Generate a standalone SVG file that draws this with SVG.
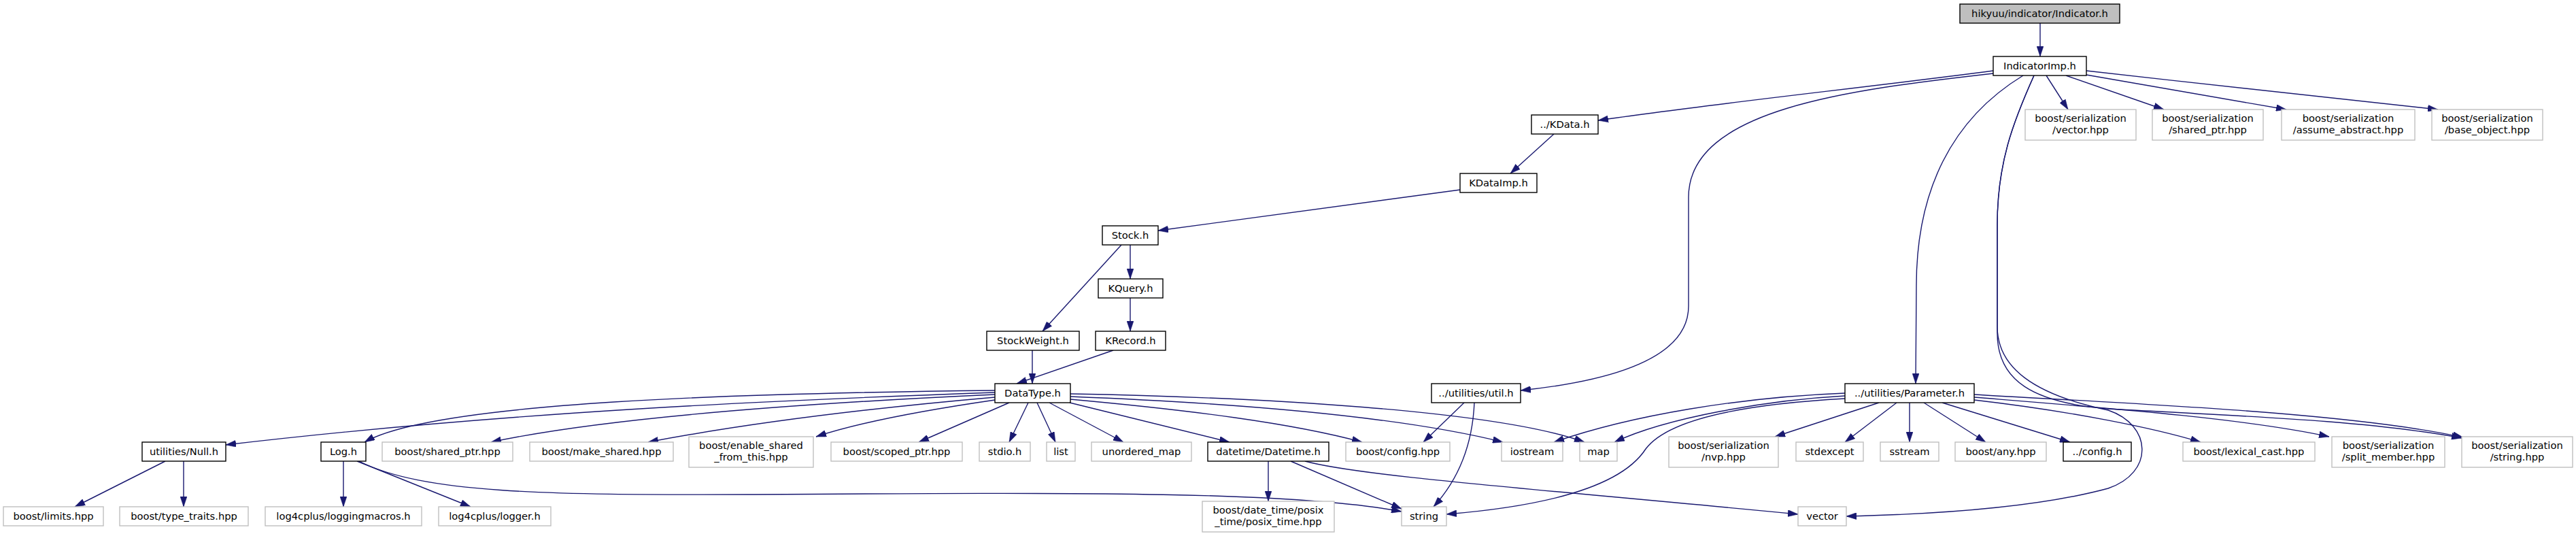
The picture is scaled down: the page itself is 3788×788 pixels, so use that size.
<svg xmlns="http://www.w3.org/2000/svg" width="3788" height="788" viewBox="0 0 3788 788">
<style>
.b rect{fill:#ffffff;stroke:#000000;stroke-width:1.4}
.g rect{fill:#ffffff;stroke:#bfbfbf;stroke-width:1.4}
.r rect{fill:#bfbfbf;stroke:#000000;stroke-width:1.4}
text{font-family:"DejaVu Sans","Liberation Sans",sans-serif;font-size:14.7px;fill:#000000;text-anchor:middle}
#edges path{fill:none;stroke:#191970;stroke-width:1.4;marker-end:url(#ah)}
</style>
<defs>
<marker id="ah" viewBox="0 0 15 10" markerWidth="15" markerHeight="10" markerUnits="userSpaceOnUse" refX="15" refY="5" orient="auto"><path d="M0,0 L15,5 L0,10 z" fill="#191970" stroke="#191970" stroke-width="0.5"/></marker>
</defs>
<rect x="0" y="0" width="3788" height="788" fill="#ffffff"/>
<g id="edges">
<path d="M3000,34 L3000,83"/>
<path d="M2931,104 C2750,128 2520,152 2350,177"/>
<path d="M2931,108 C2720,132 2483,160 2483,290 L2483,450 C2483,520 2390,558 2236,574"/>
<path d="M2975,111 C2870,175 2818,280 2818,420 L2817,564"/>
<path d="M2991,111 C2960,180 2937,240 2937,330 L2937,480 C2937,540 2990,580 3100,603 C3165,625 3168,695 3100,718 C3000,745 2850,756 2715,759"/>
<path d="M2991,111 C2960,180 2937,240 2937,330 L2937,490 C2937,560 2990,592 3100,601 C3300,612 3480,618 3620,644"/>
<path d="M3009,111 L3041,161"/>
<path d="M3038,111 L3182,161"/>
<path d="M3068,110 L3362,161"/>
<path d="M3068,104 C3250,125 3450,145 3585,161"/>
<path d="M2285,197 L2221,255"/>
<path d="M2147,279 L1703,339"/>
<path d="M1649,360 L1533,487"/>
<path d="M1662,360 L1662,410"/>
<path d="M1662,438 L1662,487"/>
<path d="M1518,515 L1518,564"/>
<path d="M1637,515 L1495,564"/>
<path d="M1463,577 C1150,588 750,605 332,654"/>
<path d="M1463,574 C1100,578 640,590 536,650"/>
<path d="M1463,580 C1200,592 900,612 722,650"/>
<path d="M1463,584 C1280,600 1100,622 953,650"/>
<path d="M1463,588 C1360,603 1260,622 1200,642"/>
<path d="M1484,592 L1351,650"/>
<path d="M1512,592 L1484,650"/>
<path d="M1525,592 L1552,650"/>
<path d="M1543,592 L1652,650"/>
<path d="M1573,592 L1808,650"/>
<path d="M1574,587 C1750,603 1900,622 2003,650"/>
<path d="M1574,583 C1800,592 2050,610 2210,650"/>
<path d="M1574,579 C1850,584 2200,603 2330,650"/>
<path d="M2153,592 L2093,650"/>
<path d="M2168,592 C2165,660 2140,710 2108,745"/>
<path d="M2713,578 C2560,584 2400,610 2285,650"/>
<path d="M2713,582 C2600,588 2450,614 2374,650"/>
<path d="M2713,586 C2550,595 2450,620 2420,660 C2380,722 2250,746 2127,756"/>
<path d="M2763,592 L2610,642"/>
<path d="M2789,592 L2713,650"/>
<path d="M2808,592 L2808,650"/>
<path d="M2829,592 L2920,650"/>
<path d="M2856,592 L3044,650"/>
<path d="M2903,588 C3050,605 3170,630 3236,650"/>
<path d="M2903,584 C3100,600 3300,615 3425,642"/>
<path d="M2903,580 C3100,592 3450,605 3622,643"/>
<path d="M243,678 L110,745"/>
<path d="M270,678 L270,745"/>
<path d="M505,678 L505,745"/>
<path d="M525,678 L692,745"/>
<path d="M528,678 C620,725 800,728 1100,727 C1600,724 1900,722 2061,752"/>
<path d="M1865,678 L1865,737"/>
<path d="M1898,678 L2061,748"/>
<path d="M1919,678 C2000,700 2250,718 2644,756"/>
</g>
<g id="n_indicator" class="r"><rect x="2882" y="6" width="235" height="28"/><text x="2999.5" y="25">hikyuu/indicator/Indicator.h</text></g>
<g id="n_indicatorimp" class="b"><rect x="2931" y="83" width="137" height="28"/><text x="2999.5" y="102">IndicatorImp.h</text></g>
<g id="n_kdata" class="b"><rect x="2252" y="169" width="98" height="28"/><text x="2301" y="188">../KData.h</text></g>
<g id="n_ser_vector" class="g"><rect x="2978" y="161" width="163" height="45"/><text x="3059.5" y="179">boost/serialization</text><text x="3059.5" y="196">/vector.hpp</text></g>
<g id="n_ser_shared_ptr" class="g"><rect x="3165" y="161" width="163" height="45"/><text x="3246.5" y="179">boost/serialization</text><text x="3246.5" y="196">/shared_ptr.hpp</text></g>
<g id="n_ser_assume" class="g"><rect x="3355" y="161" width="196" height="45"/><text x="3453" y="179">boost/serialization</text><text x="3453" y="196">/assume_abstract.hpp</text></g>
<g id="n_ser_base" class="g"><rect x="3576" y="161" width="163" height="45"/><text x="3657.5" y="179">boost/serialization</text><text x="3657.5" y="196">/base_object.hpp</text></g>
<g id="n_kdataimp" class="b"><rect x="2147" y="255" width="113" height="28"/><text x="2203.5" y="274">KDataImp.h</text></g>
<g id="n_stock" class="b"><rect x="1621" y="332" width="82" height="28"/><text x="1662" y="351">Stock.h</text></g>
<g id="n_kquery" class="b"><rect x="1615" y="410" width="95" height="28"/><text x="1662.5" y="429">KQuery.h</text></g>
<g id="n_stockweight" class="b"><rect x="1451" y="487" width="136" height="28"/><text x="1519" y="506">StockWeight.h</text></g>
<g id="n_krecord" class="b"><rect x="1611" y="487" width="103" height="28"/><text x="1662.5" y="506">KRecord.h</text></g>
<g id="n_datatype" class="b"><rect x="1463" y="564" width="111" height="28"/><text x="1518.5" y="583">DataType.h</text></g>
<g id="n_util" class="b"><rect x="2105" y="564" width="131" height="28"/><text x="2170.5" y="583">../utilities/util.h</text></g>
<g id="n_parameter" class="b"><rect x="2713" y="564" width="190" height="28"/><text x="2808" y="583">../utilities/Parameter.h</text></g>
<g id="n_null" class="b"><rect x="209" y="650" width="123" height="28"/><text x="270.5" y="669">utilities/Null.h</text></g>
<g id="n_log" class="b"><rect x="472" y="650" width="66" height="28"/><text x="505" y="669">Log.h</text></g>
<g id="n_shared_ptr" class="g"><rect x="562" y="650" width="192" height="28"/><text x="658" y="669">boost/shared_ptr.hpp</text></g>
<g id="n_make_shared" class="g"><rect x="779" y="650" width="211" height="28"/><text x="884.5" y="669">boost/make_shared.hpp</text></g>
<g id="n_enable_shared" class="g"><rect x="1013" y="642" width="183" height="45"/><text x="1104.5" y="660">boost/enable_shared</text><text x="1104.5" y="677">_from_this.hpp</text></g>
<g id="n_scoped_ptr" class="g"><rect x="1222" y="650" width="193" height="28"/><text x="1318.5" y="669">boost/scoped_ptr.hpp</text></g>
<g id="n_stdio" class="g"><rect x="1440" y="650" width="75" height="28"/><text x="1477.5" y="669">stdio.h</text></g>
<g id="n_list" class="g"><rect x="1539" y="650" width="42" height="28"/><text x="1560" y="669">list</text></g>
<g id="n_unordered_map" class="g"><rect x="1605" y="650" width="147" height="28"/><text x="1678.5" y="669">unordered_map</text></g>
<g id="n_datetime" class="b"><rect x="1776" y="650" width="178" height="28"/><text x="1865" y="669">datetime/Datetime.h</text></g>
<g id="n_boost_config" class="g"><rect x="1979" y="650" width="153" height="28"/><text x="2055.5" y="669">boost/config.hpp</text></g>
<g id="n_iostream" class="g"><rect x="2208" y="650" width="90" height="28"/><text x="2253" y="669">iostream</text></g>
<g id="n_map" class="g"><rect x="2323" y="650" width="55" height="28"/><text x="2350.5" y="669">map</text></g>
<g id="n_nvp" class="g"><rect x="2454" y="642" width="161" height="45"/><text x="2534.5" y="660">boost/serialization</text><text x="2534.5" y="677">/nvp.hpp</text></g>
<g id="n_stdexcept" class="g"><rect x="2641" y="650" width="99" height="28"/><text x="2690.5" y="669">stdexcept</text></g>
<g id="n_sstream" class="g"><rect x="2765" y="650" width="86" height="28"/><text x="2808" y="669">sstream</text></g>
<g id="n_any" class="g"><rect x="2875" y="650" width="134" height="28"/><text x="2942" y="669">boost/any.hpp</text></g>
<g id="n_config" class="b"><rect x="3034" y="650" width="100" height="28"/><text x="3084" y="669">../config.h</text></g>
<g id="n_lexical" class="g"><rect x="3210" y="650" width="194" height="28"/><text x="3307" y="669">boost/lexical_cast.hpp</text></g>
<g id="n_split" class="g"><rect x="3429" y="642" width="166" height="45"/><text x="3512" y="660">boost/serialization</text><text x="3512" y="677">/split_member.hpp</text></g>
<g id="n_ser_string" class="g"><rect x="3620" y="642" width="163" height="45"/><text x="3701.5" y="660">boost/serialization</text><text x="3701.5" y="677">/string.hpp</text></g>
<g id="n_limits" class="g"><rect x="5" y="745" width="147" height="28"/><text x="78.5" y="764">boost/limits.hpp</text></g>
<g id="n_type_traits" class="g"><rect x="176" y="745" width="189" height="28"/><text x="270.5" y="764">boost/type_traits.hpp</text></g>
<g id="n_loggingmacros" class="g"><rect x="390" y="745" width="230" height="28"/><text x="505" y="764">log4cplus/loggingmacros.h</text></g>
<g id="n_logger" class="g"><rect x="645" y="745" width="165" height="28"/><text x="727.5" y="764">log4cplus/logger.h</text></g>
<g id="n_posix" class="g"><rect x="1768" y="737" width="194" height="45"/><text x="1865" y="755">boost/date_time/posix</text><text x="1865" y="772">_time/posix_time.hpp</text></g>
<g id="n_string" class="g"><rect x="2061" y="745" width="66" height="28"/><text x="2094" y="764">string</text></g>
<g id="n_vector" class="g"><rect x="2644" y="745" width="71" height="28"/><text x="2679.5" y="764">vector</text></g>
</svg>
